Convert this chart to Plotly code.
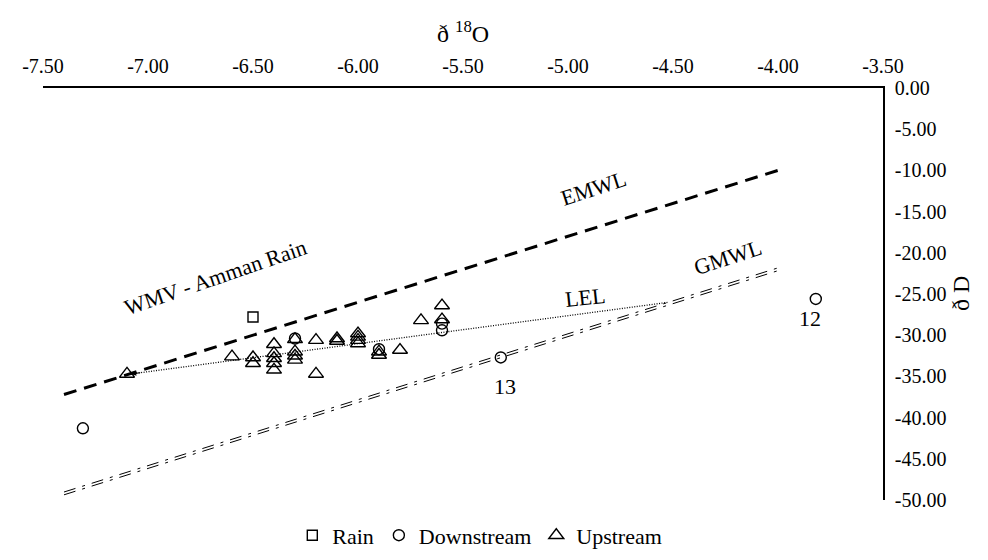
import plotly.graph_objects as go

# ---- data ----
rain_x = [-6.50]
rain_y = [-27.8]

down_x = [-7.31, -6.30, -5.90, -5.60, -5.60, -5.32, -3.82]
down_y = [-41.3, -30.4, -31.7, -28.6, -29.4, -32.7, -25.6]

up_x = [-7.10, -6.60, -6.50, -6.50, -6.40, -6.40, -6.40, -6.40, -6.40,
        -6.30, -6.30, -6.30, -6.30, -6.20, -6.20, -6.10, -6.10,
        -6.00, -6.00, -6.00, -6.00, -5.90, -5.90, -5.80, -5.70, -5.60, -5.60]
up_y = [-34.7, -32.6, -32.7, -33.4, -31.1, -32.2, -32.8, -33.4, -34.2,
        -30.5, -32.0, -32.5, -33.0, -30.6, -34.7, -30.4, -30.7,
        -29.8, -30.2, -30.6, -31.0, -32.0, -32.4, -31.8, -28.2, -26.4, -28.1]

# reference lines (end points)
line_x = [-7.40, -4.00]
gmwl_y = [8 * v + 10 for v in line_x]
emwl_y = [8 * v + 22 for v in line_x]
lel_x = [-7.08, -4.52]
lel_y = [-34.7, -26.0]

x_ticks = [-7.5, -7.0, -6.5, -6.0, -5.5, -5.0, -4.5, -4.0, -3.5]
x_labels = ["-7.50", "-7.00", "-6.50", "-6.00", "-5.50", "-5.00", "-4.50", "-4.00", "-3.50"]
y_ticks = [0, -5, -10, -15, -20, -25, -30, -35, -40, -45, -50]
y_labels = ["0.00", "-5.00", "-10.00", "-15.00", "-20.00", "-25.00", "-30.00",
            "-35.00", "-40.00", "-45.00", "-50.00"]

FONT = "Liberation Serif, Times New Roman, serif"
FS_TICK = 20
FS_ANN = 22
FS_LEG = 22
FS_TITLE = 24

fig = go.Figure()

# GMWL as double dash-dot line
off = 0.17
for d in (-off, off):
    fig.add_trace(go.Scatter(x=line_x, y=[v + d for v in gmwl_y], mode="lines",
                             line=dict(color="black", width=1, dash="12px,7px,3px,7px"),
                             showlegend=False, hoverinfo="skip"))
fig.add_trace(go.Scatter(x=line_x, y=emwl_y, mode="lines",
                         line=dict(color="black", width=3, dash="13px,8px"),
                         showlegend=False, hoverinfo="skip"))
fig.add_trace(go.Scatter(x=lel_x, y=lel_y, mode="lines",
                         line=dict(color="black", width=1.3, dash="1px,1.5px"),
                         showlegend=False, hoverinfo="skip"))

fig.add_trace(go.Scatter(x=rain_x, y=rain_y, mode="markers", name="Rain",
                         marker=dict(symbol="square-open", size=10, color="black",
                                     line=dict(width=1.4, color="black"))))
fig.add_trace(go.Scatter(x=down_x, y=down_y, mode="markers", name="Downstream",
                         marker=dict(symbol="circle-open", size=11, color="black",
                                     line=dict(width=1.4, color="black"))))
fig.add_trace(go.Scatter(x=up_x, y=up_y, mode="markers", name="Upstream",
                         marker=dict(symbol="triangle-up-open", size=13, color="black",
                                     line=dict(width=1.4, color="black"))))

ann = [
    dict(x=-4.88, y=-12.2, text="EMWL", textangle=-18),
    dict(x=-6.68, y=-23.0, text="WMV - Amman Rain", textangle=-19),
    dict(x=-4.92, y=-25.4, text="LEL", textangle=-6),
    dict(x=-4.24, y=-20.6, text="GMWL", textangle=-18),
    dict(x=-5.30, y=-36.2, text="13", textangle=0),
    dict(x=-3.85, y=-28.0, text="12", textangle=0),
]
for a in ann:
    fig.add_annotation(x=a["x"], y=a["y"], xref="x", yref="y", text=a["text"],
                       textangle=a["textangle"], showarrow=False,
                       font=dict(family=FONT, size=FS_ANN, color="black"))

# small arrow head at the left end of LEL
fig.add_annotation(x=lel_x[0], y=lel_y[0], ax=lel_x[0] + 0.05, ay=lel_y[0] + 0.17,
                   xref="x", yref="y", axref="x", ayref="y", text="",
                   showarrow=True, arrowhead=2, arrowsize=1, arrowwidth=1, arrowcolor="black")

# axis titles
fig.add_annotation(x=0.5, y=1.0, xref="paper", yref="paper", yshift=56,
                   text="ð <sup>18</sup>O", showarrow=False, yanchor="middle",
                   font=dict(family=FONT, size=FS_TITLE, color="black"))
fig.add_annotation(x=1.0, y=0.5, xref="paper", yref="paper", xshift=93,
                   text="ð D", textangle=-90, showarrow=False,
                   font=dict(family=FONT, size=FS_TITLE, color="black"))

fig.update_xaxes(range=[-7.5, -3.5], side="top", tickvals=x_ticks, ticktext=x_labels,
                 showline=True, linecolor="black", linewidth=1.5, showgrid=False,
                 zeroline=False, ticks="", ticklabelstandoff=5,
                 tickfont=dict(family=FONT, size=FS_TICK, color="black"), anchor="y")
fig.update_yaxes(range=[-50, 0], side="right", tickvals=y_ticks, ticktext=y_labels,
                 showline=True, linecolor="black", linewidth=1.5, showgrid=False,
                 zeroline=False, ticks="", ticklabelstandoff=6,
                 tickfont=dict(family=FONT, size=FS_TICK, color="black"))

fig.update_layout(
    width=988, height=560,
    margin=dict(l=35, r=113, t=80, b=43),
    paper_bgcolor="white", plot_bgcolor="white",
    font=dict(family=FONT, size=FS_TICK, color="black"),
    showlegend=True,
    legend=dict(orientation="h", x=0.52, xanchor="center", y=-0.035, yanchor="top",
                font=dict(family=FONT, size=FS_LEG, color="black"),
                itemwidth=30, tracegroupgap=0, bgcolor="rgba(0,0,0,0)"),
)

fig.write_html("out.html")
